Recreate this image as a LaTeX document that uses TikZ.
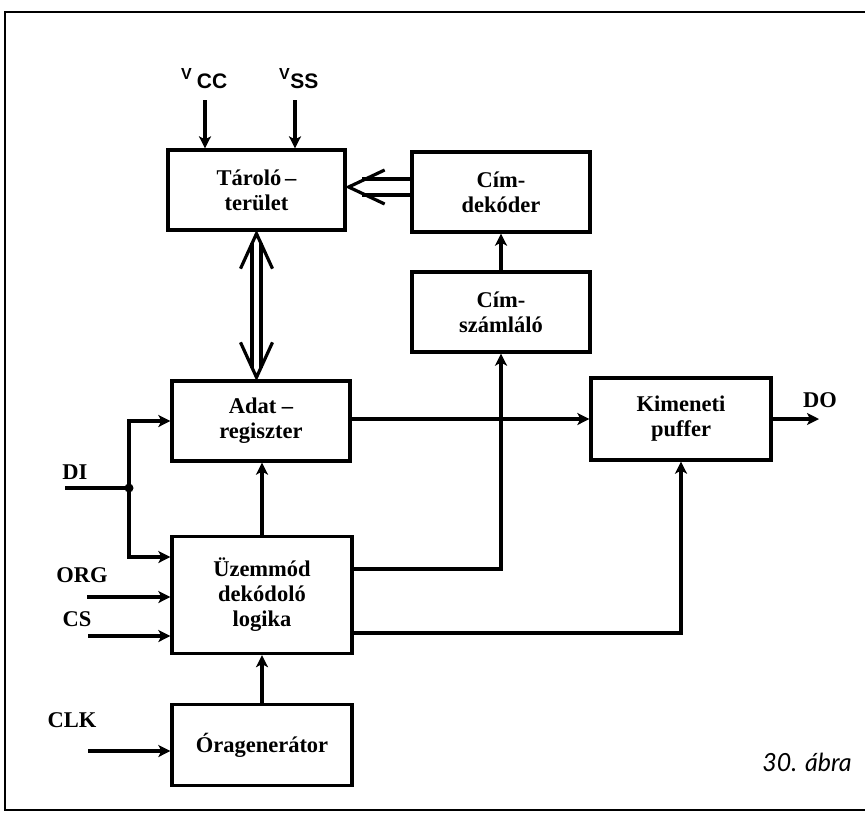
\documentclass[tikz,border=0pt]{standalone}
\usepackage{fontspec}
\setmainfont{Liberation Serif}
\setsansfont{Liberation Sans}
\newfontfamily\capfont{Lato}
\usetikzlibrary{arrows.meta,calc}
\begin{document}
\begin{tikzpicture}[x=1pt,y=-1pt,
  box/.style={draw, line width=3.3pt, align=center, font=\bfseries\fontsize{22.5}{25}\selectfont, inner sep=0pt},
  conn/.style={line width=3.2pt},
  arr/.style={conn, -{Stealth[length=12pt,width=12pt,inset=3pt]}},
  lbl/.style={font=\bfseries\fontsize{22.5}{22.5}\selectfont, inner sep=0pt},
  vlbl/.style={anchor=base west, inner sep=0pt, font=\sffamily\bfseries},
  barb/.style={conn, line join=miter}
]
\useasboundingbox (0,0) rectangle (865,815);
\draw[line width=2.8pt] (865,12) -- (5,12) -- (5,810) -- (865,810);

% boxes
\node[box, minimum width=177pt, minimum height=80pt] (tl) at (256.5,190) {Tároló\,–\\terület};
\node[box, minimum width=178pt, minimum height=80pt] (cd) at (501,192) {Cím-\\dekóder};
\node[box, minimum width=178pt, minimum height=80pt] (cs) at (501,312) {Cím-\\számláló};
\node[box, minimum width=178pt, minimum height=80pt] (ad) at (261,421) {Adat –\\regiszter};
\node[box, minimum width=180pt, minimum height=82pt] (kp) at (681,419) {Kimeneti\\puffer};
\node[box, minimum width=180pt, minimum height=117pt] (uz) at (262,595) {Üzemmód\\dekódoló\\logika};
\node[box, minimum width=180pt, minimum height=81pt] (og) at (262,745) {Óragenerátor};

% supply labels
\node[vlbl] (vcc) at (181,88) {\raisebox{9pt}{\fontsize{16}{16}\selectfont V}\hspace{5pt}\fontsize{21}{21}\selectfont CC};
\node[vlbl] (vss) at (279,88) {\raisebox{9pt}{\fontsize{16}{16}\selectfont V}\hspace{0.5pt}\fontsize{21}{21}\selectfont SS};
\coordinate (vcct) at (205,100);
\coordinate (vsst) at (295,100);
\draw[arr] (vcct) -- (vcct |- tl.north);
\draw[arr] (vsst) -- (vsst |- tl.north);

% double arrow Cim-dekoder -> Tarolo
\coordinate (ht) at ($(tl.east)+(2,-3)$);
\draw[barb] ($(ht)+(36,-17)$) -- (ht) -- ($(ht)+(36,17)$);
\draw[conn] ($(cd.west)+(0,-13)$) -- ++(-48,0);
\draw[conn] ($(cd.west)+(0,3)$) -- ++(-48,0);

% double bidirectional Tarolo <-> Adat
\coordinate (vt) at ($(tl.south)+(0,2)$);
\coordinate (vb) at ($(vt |- ad.north)+(0,-2)$);
\draw[barb] ($(vt)+(-16,35)$) -- (vt) -- ($(vt)+(16,35)$);
\draw[barb] ($(vb)+(-16,-35)$) -- (vb) -- ($(vb)+(16,-35)$);
\draw[conn] ($(vt)+(-4.5,9)$) -- ($(vb)+(-4.5,-9)$);
\draw[conn] ($(vt)+(4.5,9)$) -- ($(vb)+(4.5,-9)$);

% other connectors
\draw[arr] (cs.north) -- (cd.south);
\draw[arr] (ad.east |- kp.west) -- (kp.west);
\coordinate (do) at (819,419);
\draw[arr] (kp.east) -- (do);
\node[lbl] (dol) at (820,400) {DO};
\draw[arr] ($(uz.east)+(0,-26)$) -| (cs.south);
\draw[arr] ($(uz.east)+(0,38)$) -| (kp.south);
\draw[arr] (uz.north) -- (uz.north |- ad.south);
\draw[arr] (og.north) -- (uz.south);

% DI
\coordinate (di) at (65,488);
\coordinate (j) at (129,488);
\draw[conn] (di) -- (j);
\fill (j) circle (4.5pt);
\draw[arr] (j) |- (ad.west);
\draw[arr] (j) |- ($(uz.west)+(0,-38)$);
\node[lbl] (dil) at (75,472) {DI};

% ORG, CS, CLK
\coordinate (org) at (87,597);
\draw[arr] (org) -- (org -| uz.west);
\node[lbl] (orgl) at (82,575) {ORG};
\coordinate (csi) at (88,636);
\draw[arr] (csi) -- (csi -| uz.west);
\node[lbl] (csl) at (77,619) {CS};
\coordinate (clk) at (88,751);
\draw[arr] (clk) -- (clk -| og.west);
\node[lbl] (clkl) at (72,720) {CLK};

% caption
\node[font=\capfont\itshape\fontsize{25}{25}\selectfont, inner sep=0pt] (cap) at (807,762) {30. ábra};
\end{tikzpicture}
\end{document}
